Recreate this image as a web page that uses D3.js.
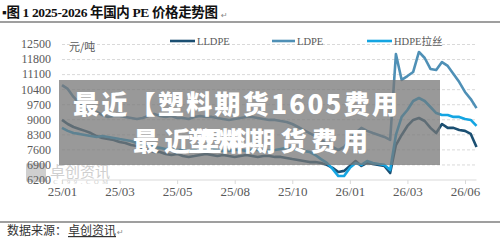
<!DOCTYPE html>
<html lang="zh">
<head>
  <meta charset="UTF-8">
  <script src="https://d3js.org/d3.v7.min.js"></script>
  <style>
    body { margin: 0; background: #fff; }
    .grid .domain { display: none; }
    .grid line { stroke: #d9d9d9; stroke-dasharray: 3 2; }
    .yax .domain, .xax .domain { display: none; }
    .yax text, .xax text { font-family: "Liberation Serif", serif; fill: #595959; }
    .yax text { font-size: 12px; }
    .xax text { font-size: 13px; }
    .xax line { stroke: #d9d9d9; }
  </style>
</head>
<body>
<svg id="chart" width="500" height="246"></svg>
<script>
  // tick labels
  const xLabels = ["25/01", "25/03", "25/05", "25/08", "25/10", "26/01", "26/03", "26/06"];
  const yTicks = [6200, 6900, 7600, 8300, 9000, 9700, 10400, 11100, 11800, 12500];
  const seriesNames = ["LLDPE", "LDPE", "HDPE拉丝"];

  // prices, one reading every 4 trading days (元/吨)
  const lldpe = [8970, 8780, 8640, 8550, 8460, 8360, 8220, 8130, 8080, 8040,
    7940, 7900, 7800, 7760, 7670, 7570, 7480, 7480, 7390, 7340,
    7390, 7290, 7250, 7290, 7340, 7390, 7340, 7290, 7340, 7290,
    7250, 7290, 7340, 7290, 7250, 7290, 7290, 7250, 7250, 7200,
    7150, 7110, 7060, 7010, 7010, 6970, 6880, 6740, 6550, 6600,
    6830, 7060, 6830, 6970, 6920, 6880, 6830, 6500, 7800, 8270,
    8690, 8970, 9060, 8920, 8600, 8360, 8780, 8600, 8600, 8500,
    8460, 8320, 7710];
  const ldpe = [10590, 10410, 10040, 9760, 9570, 9430, 9340, 9200, 9110, 9150,
    9150, 9110, 9060, 9010, 9060, 9150, 9250, 9150, 9110, 9150,
    9060, 9060, 9010, 9110, 9150, 9110, 9110, 9060, 9010, 8970,
    9010, 9060, 9110, 9110, 9060, 9010, 8970, 8970, 8920, 8870,
    8780, 8640, 8500, 8360, 8220, 8040, 7850, 7710, 7570, 7710,
    8040, 8360, 8600, 8460, 8360, 8270, 8180, 8040, 12030, 10830,
    11010, 11200, 12130, 11850, 11340, 11290, 11660, 11480, 11110, 10730,
    10270, 9940, 9520];
  const hdpe = [8600, 8460, 8360, 8320, 8270, 8220, 8180, 8220, 8180, 8130,
    8080, 8040, 7990, 7900, 7850, 7800, 7710, 7670, 7620, 7620,
    7570, 7570, 7530, 7570, 7530, 7570, 7620, 7570, 7530, 7530,
    7570, 7570, 7530, 7570, 7570, 7530, 7530, 7570, 7620, 7670,
    7620, 7570, 7530, 7480, 7340, 7150, 6970, 6690, 6360, 6360,
    6740, 6970, 6880, 7060, 6970, 6920, 6880, 6640, 8270, 9110,
    9430, 9850, 9990, 9850, 9570, 9290, 9200, 9200, 9110, 9110,
    9010, 8970, 8690];
  const step = 4;
  const colors = ["#1b4f72", "#4f90b6", "#14a5e2"];

  const svg = d3.select("#chart");

  const x = d3.scaleLinear().domain([0, 280]).range([62, 465]);
  const y = d3.scaleLinear().domain([6200, 12500]).range([179.5, 44]);
  const xEnd = x(288);

  // title
  svg.append("text").attr("x", 2).attr("y", 17).attr("textLength", 216)
    .style("font-family", "'Liberation Serif', 'Noto Sans CJK SC', serif")
    .style("font-size", "13.5px").style("font-weight", "bold").attr("fill", "#111")
    .text("▪图 1 2025-2026 年国内 PE 价格走势图");
  svg.append("text").attr("x", 221).attr("y", 18)
    .style("font-size", "8px").attr("fill", "#888").style("font-family", "DejaVu Sans").text("↵");
  svg.append("line").attr("x1", 0).attr("x2", 500).attr("y1", 22).attr("y2", 22)
    .attr("stroke", "#7f7f7f").attr("stroke-width", 1.5);

  // watermark
  const wm = svg.append("g").attr("fill", "#cfcfcf");
  wm.append("rect").attr("x", 26).attr("y", 163).attr("width", 20).attr("height", 19).attr("rx", 2);
  wm.append("text").attr("x", 50).attr("y", 177)
    .style("font-family", "'Noto Sans CJK SC'").style("font-size", "15px").text("卓创资讯");
  wm.append("text").attr("x", 46).attr("y", 184)
    .style("font-family", "'Liberation Serif'").style("font-size", "6.5px").attr("textLength", 62).text("SCI99.COM");

  // grid
  svg.append("g").attr("class", "grid")
    .attr("transform", "translate(62,0)")
    .call(d3.axisLeft(y).tickValues(yTicks.slice(1)).tickSize(-(xEnd - 62)).tickFormat(""));

  svg.append("g").attr("class", "yax")
    .attr("transform", "translate(62,0)")
    .call(d3.axisLeft(y).tickValues(yTicks).tickSize(0).tickPadding(11).tickFormat(d3.format("d")));

  svg.append("g").attr("class", "xax")
    .attr("transform", "translate(0,180)")
    .call(d3.axisBottom(x).tickValues(d3.range(0, 281, 40)).tickSize(4).tickSizeOuter(0)
      .tickPadding(3).tickFormat((d, i) => xLabels[i]));
  svg.append("line").attr("x1", 62).attr("x2", xEnd).attr("y1", 180).attr("y2", 180)
    .attr("stroke", "#d9d9d9");

  svg.append("text").attr("x", 69).attr("y", 51)
    .style("font-family", "'Noto Sans CJK SC'").style("font-size", "11px").attr("fill", "#595959")
    .text("元/吨");

  // lines
  const line = d3.line().x((d, i) => x(i * step)).y(d => y(d));
  [lldpe, ldpe, hdpe].forEach((s, k) => {
    svg.append("path").attr("d", line(s)).attr("fill", "none")
      .attr("stroke", colors[k]).attr("stroke-width", 2.6).attr("stroke-linejoin", "round");
  });

  // legend
  const legX = [170, 272, 367];
  const legW = [25, 23, 25];
  seriesNames.forEach((n, k) => {
    svg.append("line").attr("x1", legX[k]).attr("x2", legX[k] + legW[k]).attr("y1", 41).attr("y2", 41)
      .attr("stroke", colors[k]).attr("stroke-width", 2.6);
    svg.append("text").attr("x", legX[k] + legW[k] + 2).attr("y", 45)
      .style("font-family", "'Liberation Serif', 'Noto Sans CJK SC', serif").style("font-size", "10.5px")
      .attr("fill", "#595959").text(n);
  });

  // overlay banner
  svg.append("rect").attr("x", 59).attr("y", 80).attr("width", 381).attr("height", 85)
    .attr("fill", "#777").attr("opacity", 0.75);
  const bannerFont = "'Noto Sans CJK SC', sans-serif";
  svg.append("text").attr("x", 73).attr("y", 114).attr("textLength", 325)
    .style("font-family", bannerFont).style("font-size", "26px").style("font-weight", "900")
    .attr("fill", "#fff").text("最近【塑料期货1605费用");
  svg.append("text").attr("x", 133).attr("y", 151).attr("textLength", 120)
    .style("font-family", bannerFont).style("font-size", "26px").style("font-weight", "900")
    .attr("fill", "#fff").text("最近塑料");
  svg.append("text").attr("x", 188).attr("y", 151).attr("textLength", 180)
    .style("font-family", bannerFont).style("font-size", "26px").style("font-weight", "900")
    .attr("fill", "#fff").text("塑料期货费用");

  // source
  svg.append("line").attr("x1", 0).attr("x2", 500).attr("y1", 222).attr("y2", 222)
    .attr("stroke", "#7f7f7f").attr("stroke-width", 1.5);
  svg.append("text").attr("x", 7).attr("y", 235)
    .style("font-family", "'Noto Sans CJK SC'").style("font-size", "12px").attr("fill", "#333")
    .text("数据来源：");
  svg.append("text").attr("x", 68).attr("y", 235)
    .style("font-family", "'Noto Sans CJK SC'").style("font-size", "12px").attr("fill", "#333")
    .style("text-decoration", "underline").style("text-decoration-color", "#4472c4")
    .text("卓创资讯");
  svg.append("text").attr("x", 117).attr("y", 235)
    .style("font-size", "8px").attr("fill", "#888").style("font-family", "DejaVu Sans").text("↵");
</script>
</body>
</html>
